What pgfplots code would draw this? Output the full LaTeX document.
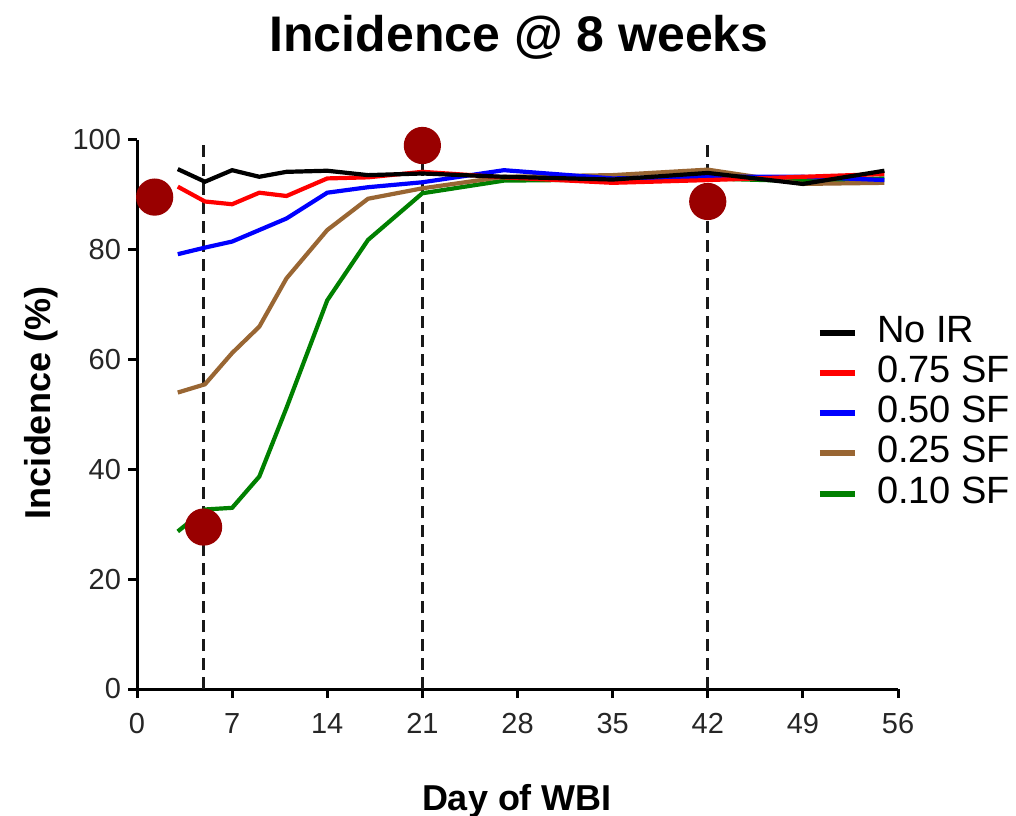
\documentclass[border=0pt]{standalone}
\usepackage{fontspec}
\setmainfont{Liberation Sans}
\usepackage{pgfplots}
\pgfplotsset{compat=1.18}

\definecolor{darkdot}{HTML}{990000}
\definecolor{sfbrown}{HTML}{996633}
\definecolor{sfgreen}{HTML}{008000}

\begin{document}
\begin{tikzpicture}
% image is 1016x815 px, 1 px = 0.5 pt
\useasboundingbox (0,0) rectangle (508pt,407.5pt);
\begin{axis}[
    at={(68.5pt,63pt)}, anchor=south west,
    scale only axis,
    width=380.5pt, height=274.5pt,
    xmin=0, xmax=56, ymin=0, ymax=100,
    xtick={0,7,14,21,28,35,42,49,56},
    ytick={0,20,40,60,80,100},
    axis lines=left,
    axis line style={line width=1.5pt, -},
    tick align=outside,
    major tick length=4.5pt,
    tick style={line width=1.5pt, black},
    /pgf/number format/assume math mode=true,
    ticklabel style={font=\fontsize{14.5}{16}\selectfont, text=black!85},
    xticklabel style={yshift=-4pt},
    yticklabel style={xshift=0pt},
    clip=false,
    reverse legend,
    legend style={draw=none, fill=none, inner sep=0pt,
        at={(0.893,0.685)}, anchor=north west,
        font=\fontsize{19}{20}\selectfont,
        nodes={text height=13.5pt, text depth=4pt, inner sep=1pt},
        row sep=0.6pt},
    legend cell align=left,
    legend image code/.code={\draw[#1, line width=3pt] (0pt,0pt) -- (17.5pt,0pt);
        \path (26.5pt,0pt);},
    every axis plot/.append style={line width=2.1pt},
]
% vertical reference lines
\addplot[black!90, line width=1.5pt, dash pattern=on 6pt off 3.5pt, forget plot] coordinates {(4.9,0)(4.9,99.5)};
\addplot[black!90, line width=1.5pt, dash pattern=on 6pt off 3.5pt, forget plot] coordinates {(21,0)(21,99.5)};
\addplot[black!90, line width=1.5pt, dash pattern=on 6pt off 3.5pt, forget plot] coordinates {(42,0)(42,99.5)};

\addplot[sfgreen] coordinates {
    (3,28.7)(5,32.7)(7,33.0)(9,38.7)(11,51.2)(14,70.8)(17,81.8)(21,90.3)(27,92.6)(35,92.8)(42,93.0)(49,92.5)(55,93.0)
};
\addlegendentry{0.10 SF}
\addplot[sfbrown] coordinates {
    (3,54.0)(5,55.5)(7,61.2)(9,66.0)(11,74.8)(14,83.6)(17,89.3)(21,91.2)(27,93.3)(35,93.6)(42,94.6)(49,92.0)(55,92.2)
};
\addlegendentry{0.25 SF}
\addplot[blue] coordinates {
    (3,79.2)(5,80.4)(7,81.5)(9,83.6)(11,85.7)(14,90.4)(17,91.4)(21,92.3)(27,94.5)(35,93.0)(42,93.3)(49,93.3)(55,92.7)
};
\addlegendentry{0.50 SF}
\addplot[red] coordinates {
    (3,91.5)(5,88.8)(7,88.3)(9,90.4)(11,89.8)(14,93.0)(17,93.2)(21,94.2)(27,93.2)(35,92.2)(42,92.7)(49,93.3)(55,93.8)
};
\addlegendentry{0.75 SF}
\addplot[black] coordinates {
    (3,94.7)(5,92.4)(7,94.5)(9,93.3)(11,94.2)(14,94.4)(17,93.6)(21,93.9)(27,93.3)(35,92.8)(42,94.0)(49,92.0)(55,94.4)
};
\addlegendentry{No IR}

% time points
\addplot[only marks, mark=*, mark size=8.25pt, color=darkdot, forget plot] coordinates {
    (1.3,89.6)(4.9,29.5)(21,99.0)(42,88.8)
};
\end{axis}
\node[anchor=base, font=\bfseries\fontsize{25}{28}\selectfont] at (259.5pt,381.5pt) {Incidence @ 8 weeks};
\node[anchor=base, font=\bfseries\fontsize{18}{20}\selectfont] at (258.5pt,2.5pt) {Day of WBI};
\node[anchor=base, rotate=90, font=\bfseries\fontsize{18}{20}\selectfont] at (25pt,206pt) {Incidence (\%)};
\end{tikzpicture}
\end{document}
